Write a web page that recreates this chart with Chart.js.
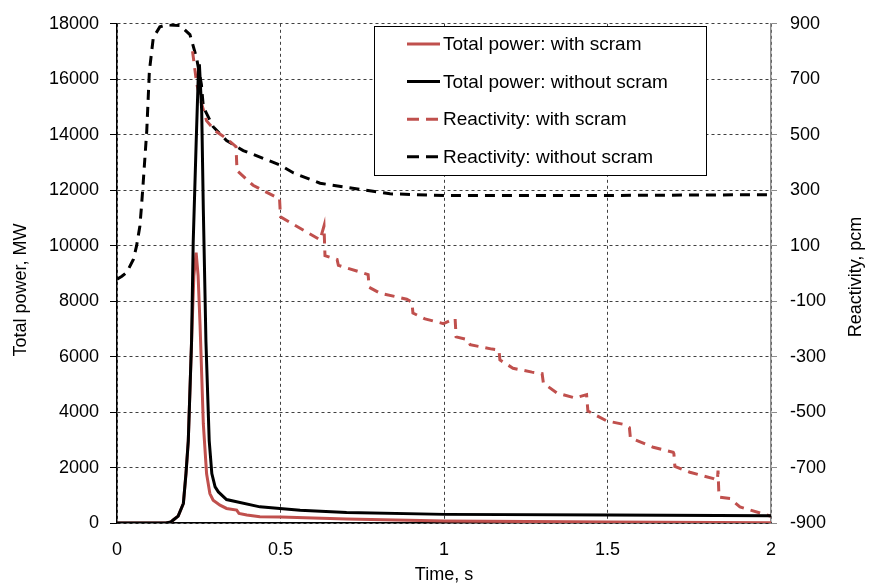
<!DOCTYPE html>
<html>
<head>
<meta charset="utf-8">
<script src="https://cdn.jsdelivr.net/npm/chart.js@4/dist/chart.umd.min.js"></script>
<style>
  html, body { margin: 0; padding: 0; background: #fff; }
  #wrap { width: 869px; height: 587px; }
</style>
</head>
<body>
<div id="wrap"><canvas id="chart" width="869" height="587"></canvas></div>
<script>

// time axis, s
const timeTicks = [0, 0.5, 1, 1.5, 2];
const powerTicks = [0, 2000, 4000, 6000, 8000, 10000, 12000, 14000, 16000, 18000];
const rhoTicks = [-900, -700, -500, -300, -100, 100, 300, 500, 700, 900];

// total power, MW - with scram
const powerTimeScram = [0, 0.15, 0.165, 0.172, 0.187, 0.203, 0.211, 0.218, 0.228, 0.235, 0.242, 0.248, 0.254, 0.259, 0.264,
  0.274, 0.284, 0.294, 0.315, 0.335, 0.366, 0.373, 0.397, 0.437, 0.5, 0.702, 1.003, 1.508, 2.0];
const powerScram = [0, 0, 40, 107, 250, 704, 1786, 2964, 6536, 8900, 9750, 8929, 7143, 5357, 3571,
  1775, 1060, 821, 643, 525, 464, 346, 286, 225, 215, 143, 71, 36, 11];

// total power, MW - without scram
const powerTimeNoScram = [0, 0.15, 0.165, 0.172, 0.187, 0.203, 0.211, 0.218, 0.228, 0.233, 0.242, 0.249, 0.252, 0.259, 0.264,
  0.272, 0.282, 0.29, 0.3, 0.31, 0.335, 0.437, 0.498, 0.56, 0.702, 1.003, 1.508, 2.0];
const powerNoScram = [0, 0, 40, 107, 250, 704, 1786, 2964, 6536, 10107, 13679, 16296, 16536, 14868, 11296,
  6536, 2964, 1780, 1300, 1120, 846, 582, 525, 464, 382, 311, 286, 261];

// reactivity, pcm - with scram
const rhoTimeScram = [0.231, 0.244, 0.259, 0.274, 0.3, 0.335, 0.364, 0.367, 0.416, 0.483, 0.497, 0.5, 0.621, 0.633,
  0.636, 0.673, 0.677, 0.768, 0.771, 0.804, 0.886, 0.902, 0.905, 0.942, 0.998, 1.034, 1.037, 1.073, 1.08, 1.147,
  1.168, 1.171, 1.211, 1.269, 1.3, 1.304, 1.345, 1.401, 1.436, 1.44, 1.498, 1.548, 1.567, 1.57, 1.64, 1.701,
  1.703, 1.706, 1.752, 1.824, 1.836, 1.838, 1.841, 1.875, 1.905, 1.987, 2.0];
const rhoScram = [801, 682, 611, 550, 514, 486, 457, 371, 318, 277, 271, 204, 121, 171,
  64, 50, 29, -4, -50, -71, -93, -104, -143, -164, -181, -163, -229, -239, -257, -273,
  -276, -312, -342, -356, -361, -396, -431, -449, -437, -496, -532, -544, -556, -593, -627, -645,
  -650, -696, -717, -740, -746, -711, -807, -812, -842, -871, -876];

// reactivity, pcm - without scram
const rhoTimeNoScram = [0, 0.015, 0.03, 0.05, 0.06, 0.07, 0.075, 0.08, 0.091, 0.099, 0.111, 0.131, 0.151, 0.193,
  0.223, 0.243, 0.258, 0.264, 0.294, 0.335, 0.386, 0.5, 0.54, 0.621, 0.783, 0.835, 1.0, 1.5, 2.0];
const rhoNoScram = [-21, -10, 4, 50, 100, 171, 243, 325, 514, 729, 850, 889, 896, 894,
  861, 779, 682, 600, 529, 479, 443, 390, 362, 325, 296, 287, 281, 281, 284];

const RED = '#C0504D';
const FONT = '"Liberation Sans", Arial, sans-serif';

function toPoints(xs, ys) {
  return xs.map((x, i) => ({ x: x, y: ys[i] }));
}

function drawVerticalTitle(ctx, text, x, y) {
  ctx.save();
  ctx.font = '18px ' + FONT;
  ctx.fillStyle = '#000';
  ctx.textAlign = 'center';
  ctx.textBaseline = 'middle';
  ctx.translate(x, y);
  ctx.rotate(-Math.PI / 2);
  ctx.fillText(text, 0, 0);
  ctx.restore();
}

// legend box inside the plot + both y titles, drawn on the canvas
const boxLegend = {
  id: 'boxLegend',
  afterDraw(chart) {
    const ctx = chart.ctx;
    const box = { x: 374, y: 26, w: 332, h: 149 };
    ctx.save();
    ctx.fillStyle = '#fff';
    ctx.fillRect(box.x, box.y, box.w, box.h);
    ctx.strokeStyle = '#000';
    ctx.lineWidth = 1;
    ctx.strokeRect(box.x + 0.5, box.y + 0.5, box.w, box.h);

    ctx.font = '19px ' + FONT;
    ctx.textBaseline = 'middle';
    ctx.fillStyle = '#000';
    chart.data.datasets.forEach((ds, i) => {
      const y = 44 + i * 37.6;
      ctx.beginPath();
      ctx.strokeStyle = ds.borderColor;
      ctx.lineWidth = 3;
      if (ds.borderDash) ctx.setLineDash([12, 7]);
      else ctx.setLineDash([]);
      ctx.moveTo(407, y);
      ctx.lineTo(440, y);
      ctx.stroke();
      ctx.setLineDash([]);
      ctx.fillText(ds.label, 443, y + 1);
    });
    ctx.restore();

    drawVerticalTitle(ctx, 'Total power, MW', 21, 290);
    drawVerticalTitle(ctx, 'Reactivity, pcm', 856, 277);
  }
};

new Chart(document.getElementById('chart').getContext('2d'), {
  type: 'line',
  data: {
    datasets: [
      {
        label: 'Total power: with scram',
        data: toPoints(powerTimeScram, powerScram),
        yAxisID: 'yPower',
        borderColor: RED,
        borderWidth: 3,
        order: 2
      },
      {
        label: 'Total power: without scram',
        data: toPoints(powerTimeNoScram, powerNoScram),
        yAxisID: 'yPower',
        borderColor: '#000',
        borderWidth: 3,
        order: 1
      },
      {
        label: 'Reactivity: with scram',
        data: toPoints(rhoTimeScram, rhoScram),
        yAxisID: 'yRho',
        borderColor: RED,
        borderWidth: 3,
        borderDash: [10, 7],
        order: 3
      },
      {
        label: 'Reactivity: without scram',
        data: toPoints(rhoTimeNoScram, rhoNoScram),
        yAxisID: 'yRho',
        borderColor: '#000',
        borderWidth: 3,
        borderDash: [10, 7],
        order: 4
      }
    ]
  },
  options: {
    responsive: false,
    animation: false,
    devicePixelRatio: 1,
    layout: { padding: { top: 19, left: 0, right: 0, bottom: 0 } },
    elements: {
      point: { radius: 0 },
      line: { tension: 0, fill: false, borderCapStyle: 'butt' }
    },
    plugins: {
      legend: { display: false },
      tooltip: { enabled: false }
    },
    scales: {
      x: {
        type: 'linear',
        min: 0,
        max: 2,
        afterBuildTicks: s => { s.ticks = timeTicks.map(v => ({ value: v })); },
        afterFit: s => { s.height = 64; },
        ticks: {
          color: '#000',
          font: { family: FONT, size: 18 },
          padding: 16,
          maxRotation: 0,
          callback: v => String(v)
        },
        grid: {
          color: '#404040',
          lineWidth: 1,
          drawTicks: false
        },
        border: { display: true, color: '#000', width: 1.5, dash: [3, 3] },
        title: {
          display: true,
          text: 'Time, s',
          color: '#000',
          font: { family: FONT, size: 18 },
          padding: { top: 0, bottom: 1 }
        }
      },
      yPower: {
        position: 'left',
        min: 0,
        max: 18000,
        afterBuildTicks: s => { s.ticks = powerTicks.map(v => ({ value: v })); },
        afterFit: s => { s.width = 117; },
        ticks: {
          color: '#000',
          font: { family: FONT, size: 18 },
          padding: 11,
          callback: v => String(v)
        },
        grid: {
          color: '#404040',
          lineWidth: 1,
          tickLength: 7,
          tickColor: '#000',
          tickBorderDash: []
        },
        border: { display: true, color: '#000', width: 1.5, dash: [3, 3] }
      },
      yRho: {
        position: 'right',
        min: -900,
        max: 900,
        afterBuildTicks: s => { s.ticks = rhoTicks.map(v => ({ value: v })); },
        afterFit: s => { s.width = 98; },
        ticks: {
          color: '#000',
          font: { family: FONT, size: 18 },
          padding: 13,
          callback: v => String(v)
        },
        grid: {
          drawOnChartArea: false,
          color: '#8c8c8c',
          tickLength: 6,
          tickColor: '#8c8c8c',
          tickBorderDash: []
        },
        border: { display: true, color: '#8c8c8c', width: 1.5 }
      }
    }
  },
  plugins: [boxLegend]
});
</script>
</body>
</html>
